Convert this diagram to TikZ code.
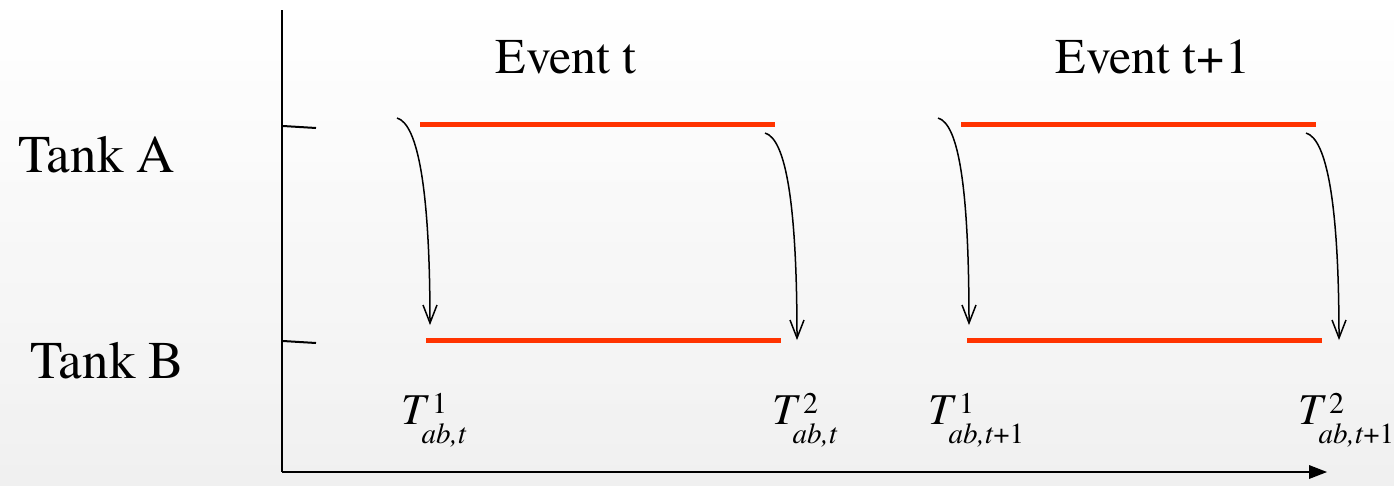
\documentclass[tikz,border=0pt]{standalone}
\usepackage{fontspec}
\newfontfamily\termes{texgyretermes}[Extension=.otf,UprightFont=*-regular,ItalicFont=*-italic]
\definecolor{barred}{HTML}{FF3300}
\newcommand\tlab[2]{{\fontsize{44}{48}\selectfont\termes\itshape T}\rlap{\kern6pt\raisebox{11pt}{\fontsize{30}{33}\selectfont\termes #1}}\kern-4.5pt\raisebox{-19pt}{\fontsize{29}{32}\selectfont\termes #2}}
\begin{document}
\begin{tikzpicture}[x=1pt,y=-1pt,
  bar/.style={draw=barred,line width=5pt},
  axis/.style={draw=black,line width=2.5pt},
  tick/.style={draw=black,line width=2pt},
  flow/.style={draw=black,line width=1.5pt},
  lab/.style={anchor=base west,font=\fontsize{53}{60}\selectfont\termes},
  ev/.style={anchor=base west,font=\fontsize{50}{58}\selectfont\termes},
  tl/.style={anchor=base west,font=\termes}]
\foreach \i in {0,...,23}{
  \pgfmathsetmacro\g{\i*0.25}
  \fill[black!\g] (0,{\i*20.2}) rectangle (1394,{\i*20.2+21});
}
\useasboundingbox (0,0) rectangle (1394,485);
% axes
\coordinate (ytop) at (282,10);
\coordinate (orig) at (282,472);
\coordinate (xend) at (1327,472);
\draw[axis] (ytop) -- (orig);
\draw[axis] (orig) -- ([shift={(-12,0)}]xend);
\fill[black] ([shift={(-18,-7)}]xend) -- (xend) -- ([shift={(-18,7)}]xend) -- cycle;
\coordinate (ta1) at (283,126); \coordinate (ta2) at (316,128);
\coordinate (tb1) at (283,341); \coordinate (tb2) at (316,343);
\draw[tick] (ta1) -- (ta2);
\draw[tick] (tb1) -- (tb2);
% labels
\node[lab] (tankA) at (15,172) {Tank A};
\node[lab] (tankB) at (27,378) {Tank B};
\node[ev] (evt) at (492,73) {Event t};
\node[ev] (evt1) at (1052,73) {Event t+1};
% bars
\coordinate (a1s) at (420,124); \coordinate (a1e) at (775,124);
\coordinate (b1s) at (426,340); \coordinate (b1e) at (781,340);
\coordinate (a2s) at (961,124); \coordinate (a2e) at (1316,124);
\coordinate (b2s) at (967,340); \coordinate (b2e) at (1322,340);
\draw[bar] (a1s) -- (a1e);
\draw[bar] (b1s) -- (b1e);
\draw[bar] (a2s) -- (a2e);
\draw[bar] (b2s) -- (b2e);
% flow arrows
\coordinate (f1s) at (397,118); \coordinate (f1e) at (430,323);
\coordinate (f2s) at (765,133); \coordinate (f2e) at (797,338);
\coordinate (f3s) at (938,118); \coordinate (f3e) at (969,323);
\coordinate (f4s) at (1306,133); \coordinate (f4e) at (1339,338);
\draw[flow] (f1s) .. controls (418,124) and (430,190) .. (f1e);
\draw[flow] (f2s) .. controls (786,139) and (797,205) .. (f2e);
\draw[flow] (f3s) .. controls (959,124) and (969,190) .. (f3e);
\draw[flow] (f4s) .. controls (1327,139) and (1339,205) .. (f4e);
\foreach \e in {f1e,f2e,f3e,f4e}{
  \draw[flow,line join=miter] ([shift={(-7,-18)}]\e) -- (\e) -- ([shift={(7,-18)}]\e);
}
% time labels
\node[tl] (t1) at (398,424) {\tlab{1}{\textit{ab,t}}};
\node[tl] (t2) at (769,424) {\tlab{2}{\textit{ab,t}}};
\node[tl] (t3) at (925,424) {\tlab{1}{\textit{ab,t}+1}};
\node[tl] (t4) at (1295,424) {\tlab{2}{\textit{ab,t}+1}};
\end{tikzpicture}
\end{document}
